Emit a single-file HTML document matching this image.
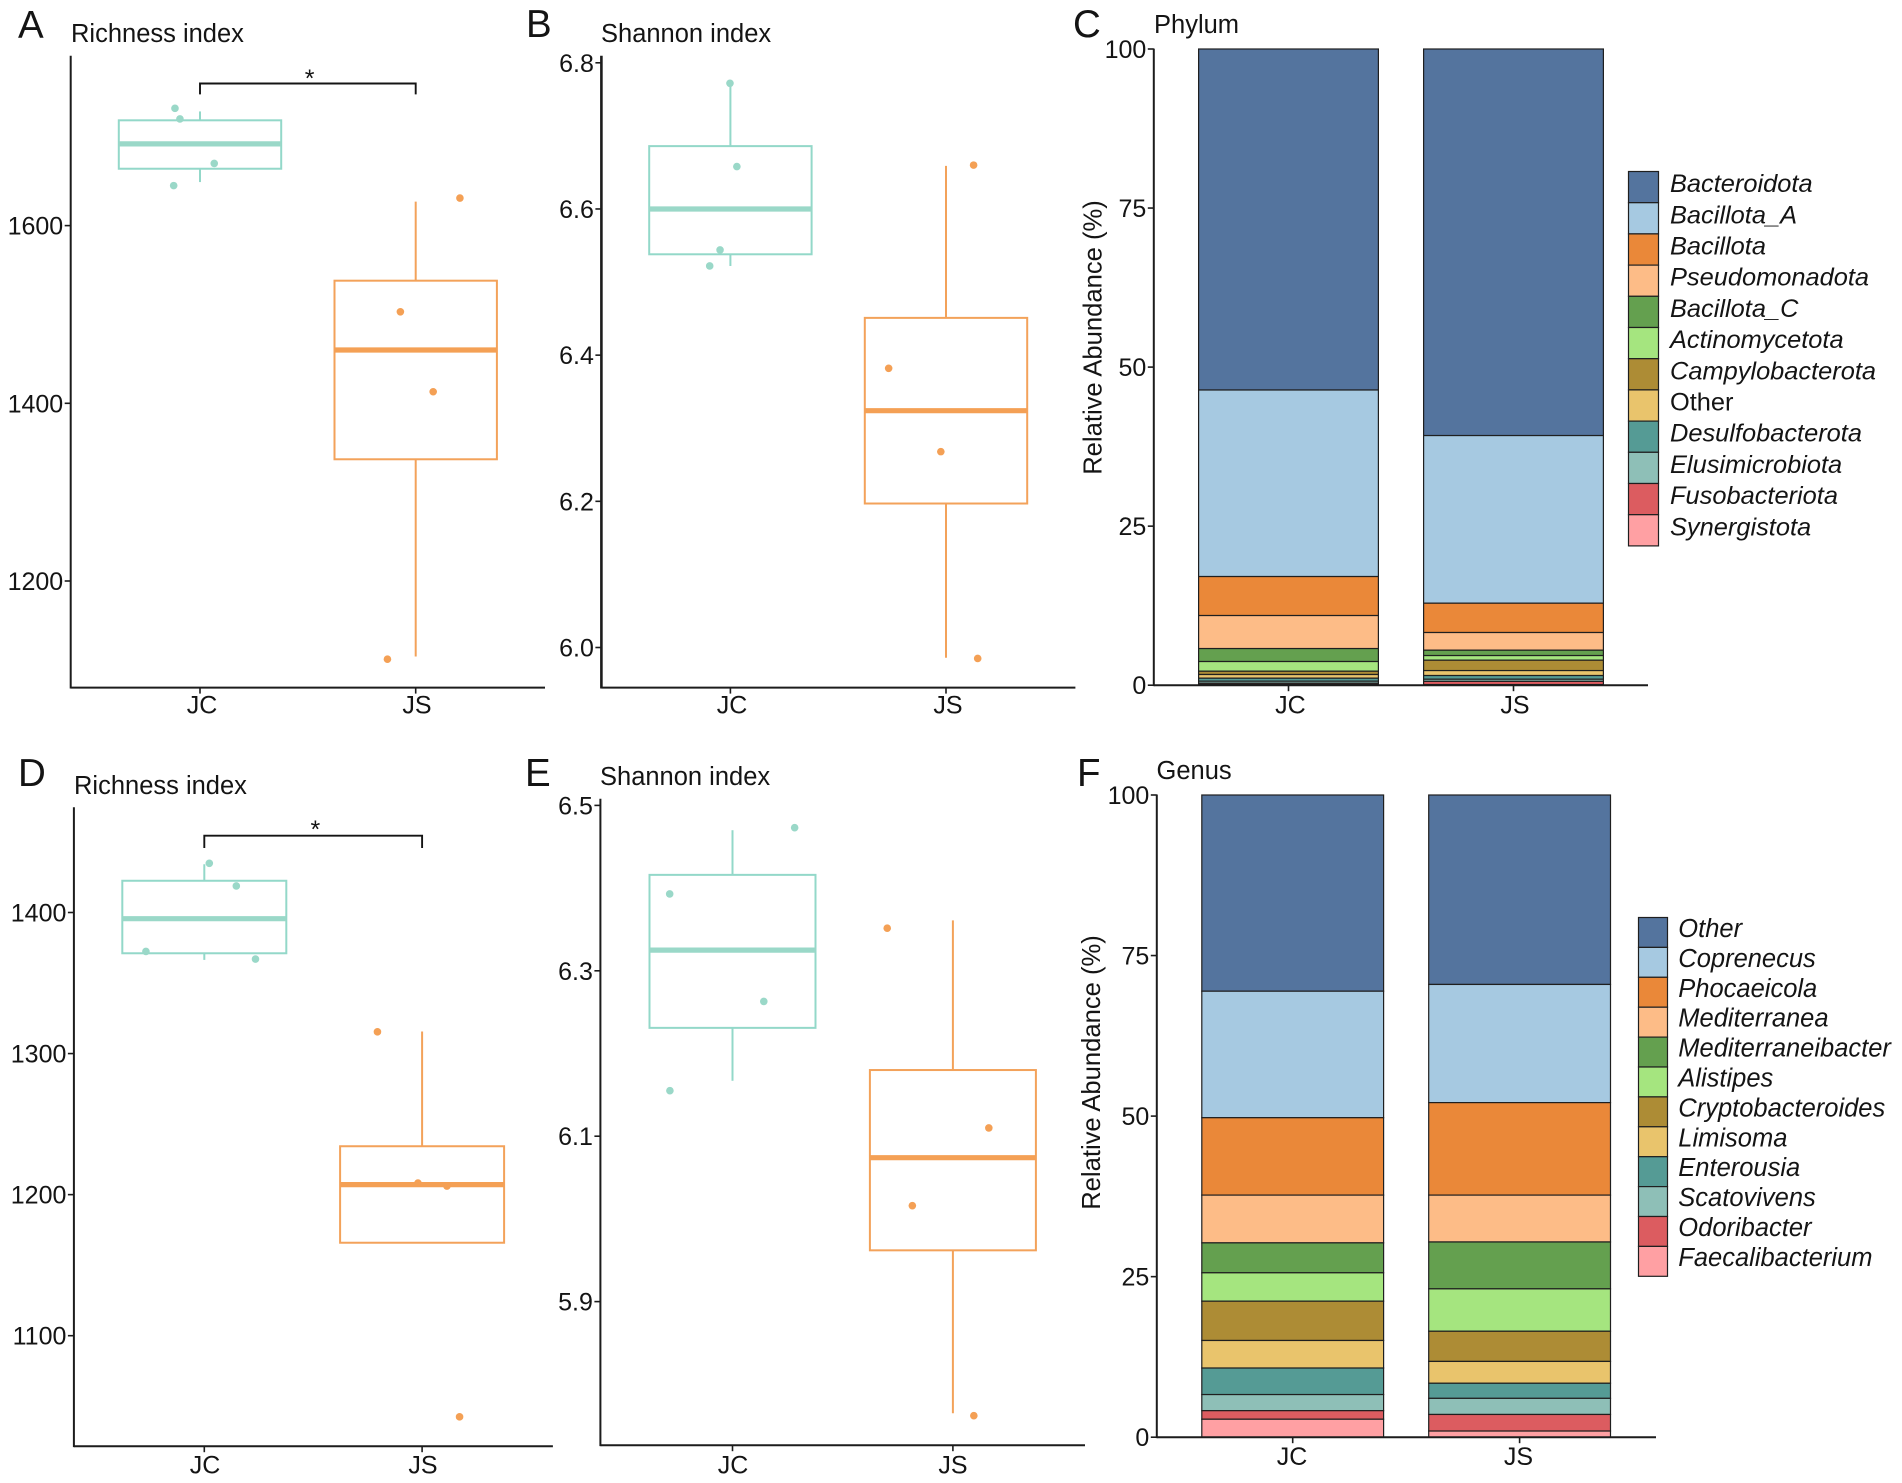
<!DOCTYPE html>
<html lang="en">
<head>
<meta charset="utf-8">
<title>Richness, Shannon and relative abundance panels</title>
<style>
html,body{margin:0;padding:0;background:#fff;}
svg{display:block;filter:blur(0.35px);}
text{font-family:"Liberation Sans",sans-serif;fill:#141414;}
.letter{font-size:38.5px;}
.title{font-size:25.5px;}
.ylab{font-size:25.6px;}
</style>
</head>
<body>
<svg id="fig" xmlns="http://www.w3.org/2000/svg" width="1902" height="1483" viewBox="0 0 1902 1483">
  <rect x="0" y="0" width="1902" height="1483" fill="#ffffff"/>
  <text class="letter" x="18" y="38">A</text>
  <text class="letter" x="526" y="37">B</text>
  <text class="letter" x="1073" y="37">C</text>
  <text class="letter" x="18" y="786">D</text>
  <text class="letter" x="525" y="786">E</text>
  <text class="letter" x="1077" y="786">F</text>
  <text class="title" x="71" y="42">Richness index</text>
  <text class="title" x="601" y="42">Shannon index</text>
  <text class="title" x="1154" y="33">Phylum</text>
  <text class="title" x="74" y="794">Richness index</text>
  <text class="title" x="600" y="785">Shannon index</text>
  <text class="title" x="1156.5" y="779">Genus</text>
  <text class="ylab" text-anchor="middle" transform="translate(1101.5 337.5) rotate(-90)">Relative Abundance (%)</text>
  <text class="ylab" text-anchor="middle" transform="translate(1100 1072.5) rotate(-90)">Relative Abundance (%)</text>
  <g id="panel-a"></g>
  <g id="panel-b"></g>
  <g id="panel-c"></g>
  <g id="panel-d"></g>
  <g id="panel-e"></g>
  <g id="panel-f"></g>
</svg>
<script>
// ---------- data ----------
const groups = ['JC', 'JS'];

// box stats are [lower whisker, q1, median, q3, upper whisker]
const ticksA = [1200, 1400, 1600];
const boxAJC = [1649, 1664, 1692, 1718.5, 1728.5];
const boxAJS = [1115, 1337, 1460, 1538, 1627];
const pointsAJC = [1732, 1720, 1670, 1645];
const pointsAJS = [1631, 1503, 1413, 1112];
const jitterAJC = [-0.116, -0.093, 0.066, -0.122];
const jitterAJS = [0.205, -0.071, 0.081, -0.131];

const ticksB = [6.0, 6.2, 6.4, 6.6, 6.8];
const boxBJC = [6.522, 6.538, 6.600, 6.686, 6.772];
const boxBJS = [5.986, 6.197, 6.324, 6.451, 6.659];
const pointsBJC = [6.772, 6.658, 6.544, 6.522];
const pointsBJS = [6.660, 6.382, 6.268, 5.985];
const jitterBJC = [-0.002, 0.030, -0.048, -0.096];
const jitterBJS = [0.128, -0.266, -0.024, 0.147];

const ticksD = [1100, 1200, 1300, 1400];
const boxDJC = [1366.4, 1371.1, 1395.6, 1422.5, 1434.2];
const boxDJS = [1165.9, 1165.9, 1207.1, 1234.3, 1315.6];
const pointsDJC = [1434.9, 1418.8, 1372.4, 1367];
const pointsDJS = [1315.4, 1208.2, 1206.1, 1042.5];
const jitterDJC = [0.023, 0.147, -0.268, 0.235];
const jitterDJS = [-0.205, -0.019, 0.114, 0.172];

const ticksE = [5.9, 6.1, 6.3, 6.5];
const boxEJC = [6.167, 6.231, 6.325, 6.416, 6.470];
const boxEJS = [5.765, 5.962, 6.074, 6.180, 6.361];
const pointsEJC = [6.473, 6.393, 6.263, 6.155];
const pointsEJS = [6.3515, 6.110, 6.016, 5.762];
const jitterEJC = [0.282, -0.285, 0.142, -0.284];
const jitterEJS = [-0.298, 0.163, -0.184, 0.095];

const abundanceTicks = [0, 25, 50, 75, 100];

const phylumNames = ['Bacteroidota', 'Bacillota_A', 'Bacillota', 'Pseudomonadota', 'Bacillota_C', 'Actinomycetota', 'Campylobacterota', 'Other', 'Desulfobacterota', 'Elusimicrobiota', 'Fusobacteriota', 'Synergistota'];
const phylumJC = [53.6, 29.32, 6.13, 5.19, 2.04, 1.52, 0.52, 0.58, 0.47, 0.32, 0.2, 0.11];
const phylumJS = [60.76, 26.35, 4.61, 2.78, 0.84, 0.73, 1.63, 0.78, 0.58, 0.34, 0.5, 0.1];

const genusNames = ['Other', 'Coprenecus', 'Phocaeicola', 'Mediterranea', 'Mediterraneibacter', 'Alistipes', 'Cryptobacteroides', 'Limisoma', 'Enterousia', 'Scatovivens', 'Odoribacter', 'Faecalibacterium'];
const genusJC = [30.55, 19.7, 12.05, 7.44, 4.66, 4.42, 6.12, 4.29, 4.13, 2.51, 1.33, 2.8];
const genusJS = [29.5, 18.4, 14.4, 7.3, 7.3, 6.6, 4.7, 3.4, 2.35, 2.51, 2.58, 0.96];

const stackColors = ['#54749E', '#A6C9E1', '#EA8839', '#FDBC87', '#64A04F', '#A5E57F', '#AD8C35', '#E9C46C', '#559B95', '#8EBFB7', '#DC5C60', '#FFA0A3'];
const groupColors = ['#93D8C9', '#F3A25A'];
const pointColors = ['#9AD8C8', '#F4A055'];

// ---------- helpers ----------
const NS = 'http://www.w3.org/2000/svg';
function mk(parent, tag, attrs, txt) {
  const node = document.createElementNS(NS, tag);
  for (const k in attrs) node.setAttribute(k, attrs[k]);
  if (txt !== undefined) node.textContent = txt;
  parent.appendChild(node);
  return node;
}
function linear(d0, p0, d1, p1) {
  return v => p0 + (v - d0) * (p1 - p0) / (d1 - d0);
}
function drawAxes(g, frame, yScale, ticks, fmt, xCenters, xLabelCenters) {
  const yAxis = mk(g, 'line', {x1: frame.left, x2: frame.left, y1: frame.top, y2: frame.bottom + 0.9, stroke: '#1c1c1c', 'stroke-width': frame.yw || 2});
  
  
  const xAxis = mk(g, 'line', {x1: frame.left, x2: frame.right, y1: frame.bottom, y2: frame.bottom, stroke: '#1c1c1c', 'stroke-width': 2});
  
  
  ticks.forEach(t => {
    const py = yScale(t);
    const tick = mk(g, 'line', {x1: frame.left - 6, x2: frame.left, y1: py, y2: py, stroke: '#1c1c1c', 'stroke-width': 1.6});
    
    
    const label = mk(g, 'text', {x: frame.left - 7.5, y: py + 9, 'text-anchor': 'end', 'font-size': 25}, fmt(t));
    
    
  });
  groups.forEach((name, i) => {
    const tick = mk(g, 'line', {x1: xCenters[i], x2: xCenters[i], y1: frame.bottom, y2: frame.bottom + 6, stroke: '#1c1c1c', 'stroke-width': 1.6});
    
    
    const label = mk(g, 'text', {x: xLabelCenters[i], y: frame.labelY, 'text-anchor': 'middle', 'font-size': 25}, name);
    
    
  });
}
function drawBoxGroup(g, i, stats, values, jitter, xCenters, halfWidth, yScale) {
  const cx = xCenters[i];
  const unit = xCenters[1] - xCenters[0];
  const color = groupColors[i];
  const hi = mk(g, 'line', {x1: cx, x2: cx, y1: yScale(stats[3]), y2: yScale(stats[4]), stroke: color, 'stroke-width': 2});
  
  
  const lo = mk(g, 'line', {x1: cx, x2: cx, y1: yScale(stats[1]), y2: yScale(stats[0]), stroke: color, 'stroke-width': 2});
  
  
  const box = mk(g, 'rect', {x: cx - halfWidth, y: yScale(stats[3]), width: halfWidth * 2, height: yScale(stats[1]) - yScale(stats[3]), fill: 'none', stroke: color, 'stroke-width': 2});
  
  
  const med = mk(g, 'line', {x1: cx - halfWidth, x2: cx + halfWidth, y1: yScale(stats[2]), y2: yScale(stats[2]), stroke: pointColors[i], 'stroke-width': 5.2});
  
  
  values.forEach((v, k) => {
    const dot = mk(g, 'circle', {cx: cx + jitter[k] * unit, cy: yScale(v), r: 3.8, fill: pointColors[i]});
    
    
  });
}
function drawBracket(g, x0, x1, yTop, yEnd, starX, starBase) {
  const br = mk(g, 'path', {d: 'M' + x0 + ' ' + yEnd + 'V' + yTop + 'H' + x1 + 'V' + yEnd, fill: 'none', stroke: '#141414', 'stroke-width': 1.9});
  
  
  const star = mk(g, 'text', {x: starX, y: starBase, 'text-anchor': 'middle', 'font-size': 25}, '*');
  
  
}
function boxPanel(id, frame, cal, ticks, fmt, box0, box1, pts0, pts1, jit0, jit1) {
  const g = document.getElementById(id);
  const yScale = linear(cal[0], cal[1], cal[2], cal[3]);
  drawAxes(g, frame, yScale, ticks, fmt, frame.centers, frame.labelCenters);
  drawBoxGroup(g, 0, box0, pts0, jit0, frame.centers, frame.half, yScale);
  drawBoxGroup(g, 1, box1, pts1, jit1, frame.centers, frame.half, yScale);
  return g;
}
function stackPanel(id, frame, names, series, legend, plainNames) {
  const g = document.getElementById(id);
  const yScale = linear(0, frame.bottom, 100, frame.top100);
  series.forEach((vals, i) => {
    const total = vals.reduce((a, b) => a + b, 0);
    const scale = 100 / total;
    let acc = 100;
    vals.forEach((v, k) => {
      const y0 = yScale(acc);
      const y1 = yScale(acc - v * scale);
      const seg = mk(g, 'rect', {x: frame.centers[i] - frame.half, y: y0, width: frame.half * 2, height: y1 - y0, fill: stackColors[k], stroke: '#1f1f1f', 'stroke-width': 1.2});
      
      
      acc -= v * scale;
    });
  });
  drawAxes(g, frame, yScale, abundanceTicks, t => String(t), frame.centers, frame.labelCenters);
  names.forEach((name, k) => {
    const top = legend.top + k * legend.row;
    const sw = mk(g, 'rect', {x: legend.x, y: top, width: legend.w, height: legend.row, fill: stackColors[k], stroke: '#1f1f1f', 'stroke-width': 1.2});
    
    
    const label = mk(g, 'text', {x: legend.textX, y: top + legend.row / 2 + legend.dy, 'font-size': legend.size, 'font-style': plainNames.indexOf(name) >= 0 ? 'normal' : 'italic'}, name);
    
    
  });
}

// ---------- panels ----------
const one = t => t.toFixed(1);
const whole = t => String(t);

const gA = boxPanel('panel-a',
  {left: 70.7, right: 545, top: 55.7, bottom: 687.6, labelY: 713.5, centers: [200, 415.7], labelCenters: [202, 417], half: 81.2},
  [1200, 581, 1600, 225.6], ticksA, whole, boxAJC, boxAJS, pointsAJC, pointsAJS, jitterAJC, jitterAJS);
drawBracket(gA, 200, 415.7, 83.5, 94.4, 309.6, 87);

boxPanel('panel-b',
  {left: 601.4, right: 1075.4, top: 55.7, bottom: 687.6, yw: 2.6, labelY: 713.5, centers: [730.4, 946], labelCenters: [732, 948], half: 81.2},
  [6.0, 647.5, 6.8, 62.8], ticksB, one, boxBJC, boxBJS, pointsBJC, pointsBJS, jitterBJC, jitterBJS);

stackPanel('panel-c',
  {left: 1153.8, right: 1648, top: 48.6, top100: 49, bottom: 685.2, labelY: 713.5, centers: [1288.5, 1513.5], labelCenters: [1290.4, 1515], half: 89.9},
  phylumNames, [phylumJC, phylumJS],
  {x: 1628.5, w: 30, top: 171.5, row: 31.2, textX: 1670, dy: 5, size: 25.4}, ['Other']);

const gD = boxPanel('panel-d',
  {left: 73.9, right: 552.9, top: 807.3, bottom: 1446.2, labelY: 1473.6, centers: [204.3, 422.1], labelCenters: [205, 423], half: 82},
  [1100, 1335.7, 1400, 912.5], ticksD, whole, boxDJC, boxDJS, pointsDJC, pointsDJS, jitterDJC, jitterDJS);
drawBracket(gD, 204.3, 422.1, 835.7, 848, 315.4, 838);

boxPanel('panel-e',
  {left: 600.4, right: 1085, top: 798.8, bottom: 1445.2, labelY: 1473.6, centers: [732.5, 952.9], labelCenters: [733, 953], half: 83},
  [5.9, 1301.6, 6.5, 805.4], ticksE, one, boxEJC, boxEJS, pointsEJC, pointsEJS, jitterEJC, jitterEJS);

stackPanel('panel-f',
  {left: 1156.8, right: 1656, top: 794.5, top100: 795, bottom: 1437.2, labelY: 1465, centers: [1292.7, 1519.6], labelCenters: [1292, 1518.5], half: 90.9},
  genusNames, [genusJC, genusJS],
  {x: 1638.5, w: 29, top: 917.5, row: 29.9, textX: 1678.3, dy: 4.5, size: 25.5}, []);
</script>
</body>
</html>
